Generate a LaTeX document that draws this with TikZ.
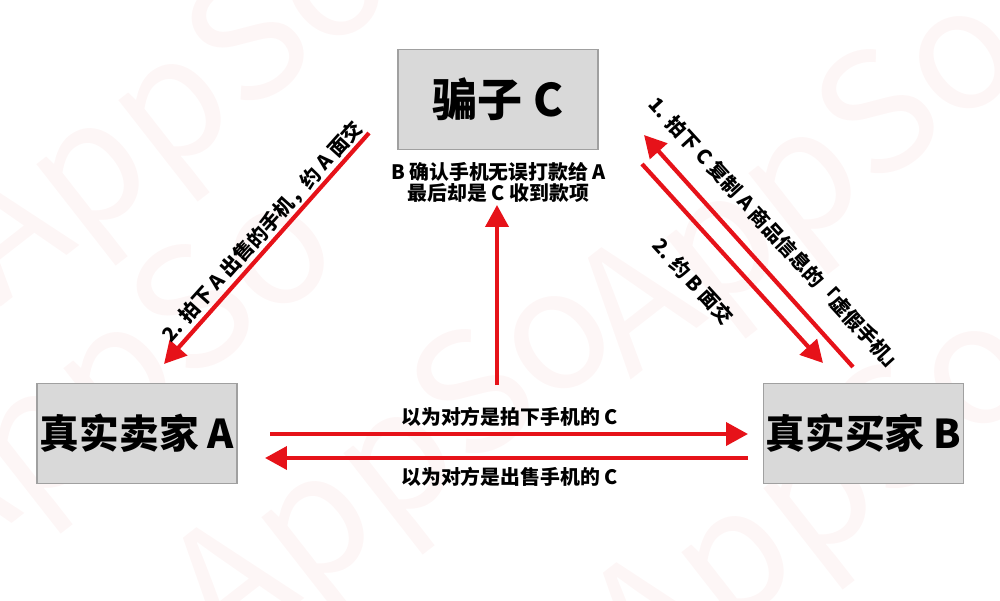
\documentclass[tikz,border=0pt]{standalone}
\usepackage{fontspec}
\setmainfont{Noto Sans CJK SC}
\usetikzlibrary{arrows.meta}
\definecolor{arrowred}{RGB}{230,18,25}
\definecolor{boxgray}{RGB}{217,217,217}
\definecolor{edgegray}{RGB}{160,160,160}

\begin{document}
\begin{tikzpicture}[x=0.02cm,y=0.02cm,
	party/.style={draw=edgegray,fill=boxgray,line width=0.6pt,minimum width=4cm,minimum height=2cm,inner sep=0pt,font=\bfseries\fontsize{22.6}{26}\selectfont},
	redarrow/.style={draw=arrowred,line width=2.4pt,-{Triangle[length=12.5pt,width=13pt]}},
	note/.style={font=\bfseries\fontsize{11.3}{10.4}\selectfont,inner sep=0pt,align=center},
	wmark/.style={text=red!80!black,text opacity=0.035,font=\fontsize{95}{95}\selectfont,rotate=38,inner sep=0pt}]
	\useasboundingbox (0,0) rectangle (1000,600);
	\node[wmark] (w1) at (175,483) {AppSo};
	\node[wmark] (w3) at (805,410) {AppSo};
	\node[wmark] (w4) at (120,215) {AppSo};
	\node[wmark] (w5) at (400,130) {AppSo};
	\node[wmark] (w6) at (820,95) {AppSo};
	\node[party,font=\bfseries\fontsize{25.6}{30}\selectfont] (cheat) at (498,500.5) {骗子 C};
	\node[party] (seller) at (137,166.5) {真实卖家 A};
	\node[party] (buyer) at (863.5,166.5) {真实买家 B};
	\coordinate (s1) at (270,166);
	\coordinate (e1) at (748,166);
	\coordinate (s2) at (748,142);
	\coordinate (e2) at (265,142);
	\coordinate (s3) at (497,215);
	\coordinate (e3) at (497,395);
	\coordinate (s4) at (369,467);
	\coordinate (e4) at (164,236);
	\coordinate (s5) at (853,233);
	\coordinate (e5) at (644,465);
	\coordinate (s6) at (642,436);
	\coordinate (e6) at (823,237);
	\draw[redarrow] (s1) -- (e1);
	\draw[redarrow] (s2) -- (e2);
	\draw[redarrow] (s3) -- (e3);
	\draw[redarrow] (s4) -- (e4);
	\draw[redarrow] (s5) -- (e5);
	\draw[redarrow] (s6) -- (e6);
	\node[note] (top) at (509.5,183.5) {以为对方是拍下手机的 C};
	\node[note] (bottom) at (509.5,123.5) {以为对方是出售手机的 C};
	\node[note] (paid) at (498.5,417.5) {B 确认手机无误打款给 A\\最后却是 C 收到款项};
	\node[note,rotate=48] (meetA) at (262.5,368.5) {2. 拍下 A 出售的手机，约 A 面交};
	\node[note,rotate=-47.5] (fake) at (777,364) {1. 拍下 C 复制 A 商品信息的「虚假手机」};
	\node[note,rotate=-47.5] (meetB) at (693.5,319) {2. 约 B 面交};
\end{tikzpicture}
\end{document}
